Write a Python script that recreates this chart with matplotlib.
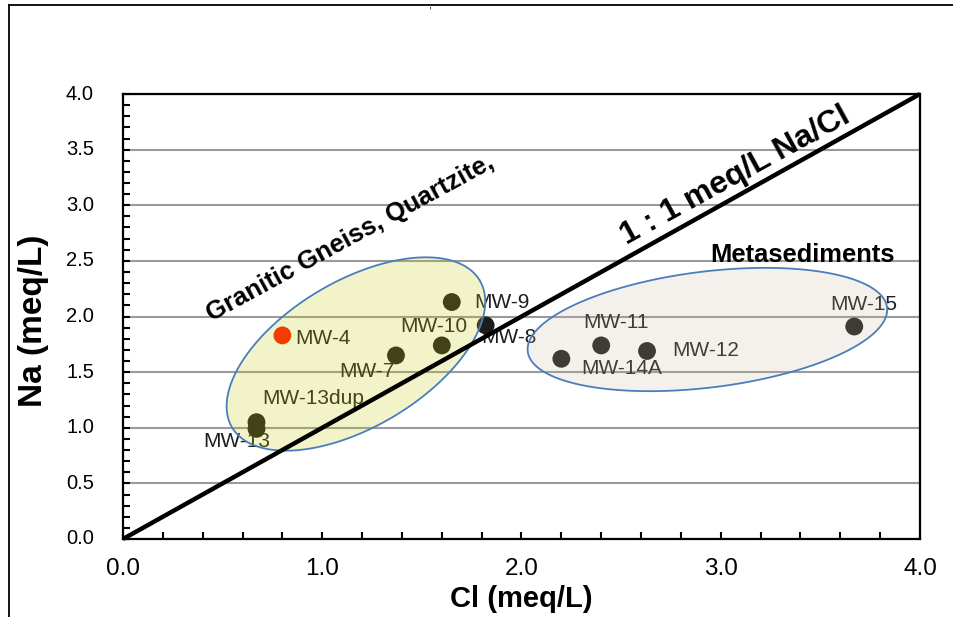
import numpy as np
import matplotlib
matplotlib.use('Agg')
import matplotlib.pyplot as plt
from matplotlib.lines import Line2D
from matplotlib.patches import Polygon
from matplotlib.ticker import MultipleLocator
from matplotlib.transforms import ScaledTranslation

plt.rcParams['font.family'] = ['Liberation Sans', 'DejaVu Sans']
plt.rcParams['xtick.direction'] = 'in'
plt.rcParams['ytick.direction'] = 'in'

# ---- data ----
wells = ['MW-4', 'MW-9', 'MW-10', 'MW-7', 'MW-8', 'MW-13dup', 'MW-13',
         'MW-11', 'MW-14A', 'MW-12', 'MW-15']
cl = [0.80, 1.65, 1.60, 1.37, 1.82, 0.67, 0.67, 2.40, 2.20, 2.63, 3.67]
na = [1.83, 2.13, 1.74, 1.65, 1.92, 1.05, 0.99, 1.74, 1.62, 1.69, 1.91]
point_colors = ['#ff1400'] + ['#1c1c1c'] * 10
xticks = [0, 1, 2, 3, 4]
xtick_labels = ['0.0', '1.0', '2.0', '3.0', '4.0']
yticks = [0, 0.5, 1.0, 1.5, 2.0, 2.5, 3.0, 3.5, 4.0]
ytick_labels = ['0.0', '0.5', '1.0', '1.5', '2.0', '2.5', '3.0', '3.5', '4.0']
ratio_line_x = [0, 4]
ratio_line_y = [0, 4]

# label offsets in pixels (dx, dy, ha)
label_pos = {
    'MW-4': (13, -3, 'left'),
    'MW-9': (22, 0, 'left'),
    'MW-10': (-8, 19, 'center'),
    'MW-7': (-1, -16, 'right'),
    'MW-8': (-4, -12, 'left'),
    'MW-13dup': (6, 24, 'left'),
    'MW-13': (-20, -13, 'center'),
    'MW-11': (15, 23, 'center'),
    'MW-14A': (20, -10, 'left'),
    'MW-12': (25, 0, 'left'),
    'MW-15': (10, 22, 'center'),
}

W, H = 954, 617
fig = plt.figure(figsize=(W / 100, H / 100), dpi=100)
L, R, T, B = 123, 920, 94, 539
ax = fig.add_axes([L / W, 1 - B / H, (R - L) / W, (B - T) / H])
ax.set_xlim(0, 4)
ax.set_ylim(0, 4)

# grid
ax.yaxis.grid(True, which='major', color='#9a9a9a', lw=1.5, zorder=0)
ax.set_axisbelow(True)

# ticks
ax.set_xticks(xticks)
ax.set_xticklabels(xtick_labels, fontsize=17.5)
ax.xaxis.set_minor_locator(MultipleLocator(0.2))
ax.set_yticks(yticks)
ax.set_yticklabels([])
ax.yaxis.set_minor_locator(MultipleLocator(0.1))
ax.tick_params(axis='both', which='both', width=1.5, length=5, color='black')
ax.xaxis.set_tick_params(which='major', pad=14)
for s in ax.spines.values():
    s.set_linewidth(1.6)

# y tick labels, placed 29 px left of the spine
ylab_trans = ax.get_yaxis_transform() + ScaledTranslation(-0.29, 0, fig.dpi_scale_trans)
for v, lab in zip(yticks, ytick_labels):
    ax.text(0, v, lab, transform=ylab_trans, ha='right', va='center',
            fontsize=14.5, clip_on=False)

ax.set_xlabel('Cl (meq/L)', fontsize=21, fontweight='bold', labelpad=3)
ax.set_ylabel('Na (meq/L)', fontsize=24, fontweight='bold')
ax.yaxis.set_label_coords(-0.093, 0.49)

# points
ax.scatter(cl, na, s=165, c=point_colors, zorder=3, edgecolors='none')
for name, x, y in zip(wells, cl, na):
    dx, dy, ha = label_pos[name]
    ax.annotate(name, (x, y), xytext=(dx, dy), textcoords='offset pixels',
                ha=ha, va='center', fontsize=15, color='#1e1e1e', zorder=2)

# ellipses (defined in pixel sizes, placed in data coords)
sx = (R - L) / 4.0
sy = (B - T) / 4.0
t = np.linspace(0, 2 * np.pi, 300)


def ellipse(cx, cy, a, b, ang, fc, alpha):
    th = np.deg2rad(ang)
    X = a * np.cos(t) * np.cos(th) - b * np.sin(t) * np.sin(th)
    Y = a * np.cos(t) * np.sin(th) + b * np.sin(t) * np.cos(th)
    pts = np.column_stack([cx + X / sx, cy + Y / sy])
    ax.add_patch(Polygon(pts, closed=True, facecolor=fc, alpha=alpha,
                         edgecolor='none', zorder=4))
    ax.add_patch(Polygon(pts, closed=True, facecolor='none',
                         edgecolor='#4a7ebb', lw=1.3, zorder=5))


ellipse(1.169, 1.663, 144, 73, 30.7, (0.78, 0.80, 0.05), 0.22)
ellipse(2.933, 1.883, 181, 58, 7.0, (0.80, 0.74, 0.64), 0.2)

# 1:1 line
ax.plot(ratio_line_x, ratio_line_y, color='black', lw=3.2, zorder=6,
        clip_on=False, solid_capstyle='butt')

# annotations
ax.text(0.445, 1.955, 'Granitic Gneiss, Quartzite,', fontsize=18.5,
        fontweight='bold', rotation=28.6, rotation_mode='anchor',
        ha='left', va='baseline', zorder=7)
ax.text(2.53, 2.64, '1 : 1 meq/L Na/Cl', fontsize=23, fontweight='bold',
        rotation=28.8, rotation_mode='anchor', ha='left', va='baseline',
        zorder=7)
ax.text(2.946, 2.49, 'Metasediments', fontsize=18.4, fontweight='bold',
        ha='left', va='baseline', zorder=7)

# outer frame (cropped)
fig.add_artist(Line2D([9 / W, 1], [1 - 5 / H, 1 - 5 / H],
                      transform=fig.transFigure, color='black', lw=1.3))
fig.add_artist(Line2D([9 / W, 9 / W], [0, 1 - 5 / H],
                      transform=fig.transFigure, color='black', lw=1.3))
fig.text(430 / W, 1.0, ',', fontsize=8, ha='center', va='top')

fig.savefig('out.png', dpi=100)
